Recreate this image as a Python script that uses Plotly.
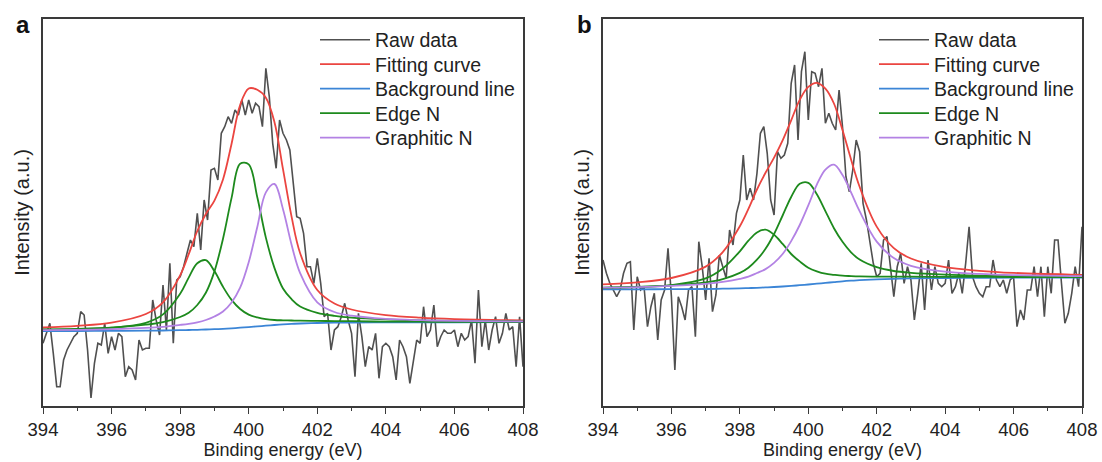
import plotly.graph_objects as go

# ---------------- data ----------------
X_RAW = [round(394 + 0.1 * i, 1) for i in range(141)]

RAW_A = [62.7, 72.7, 82.7, 52.7, 19.3, 19.3, 46, 56, 62.7, 69.3,
         72.7, 94.3, 91, 56, 8, 42.7, 62.7, 61, 82.7, 52.7,
         69.3, 56, 72.7, 69.3, 29.3, 39.3, 36, 26, 66, 56,
         57.7, 57.7, 106, 86, 71, 121, 76, 142.7, 62.7, 126,
         129.3, 139.3, 152.7, 166, 159.3, 192.7, 156, 206, 186, 236,
         237.7, 226, 272.7, 279.3, 289.3, 282.7, 296, 291, 306, 291,
         306, 292.7, 302.7, 299.3, 279.3, 337.7, 309.3, 262.7, 237.7, 286,
         272.7, 266, 256, 219.3, 189.3, 187.7, 172.7, 139.3, 139.3, 122.7,
         147.7, 122.7, 89.3, 92.7, 56, 76, 79.3, 89.3, 102.7, 86,
         72.7, 29.3, 92.7, 69.3, 39.3, 59.3, 56, 72.7, 27.7, 59.3,
         62.7, 59.3, 49.3, 26, 66, 59.3, 49.3, 22.7, 46, 66,
         62.7, 99.3, 69.3, 76, 101, 59.3, 69.3, 76, 72.7, 72.7,
         76, 59.3, 72.7, 66, 69.3, 86, 42.7, 116, 59.3, 86,
         56, 76, 89.3, 62.7, 72.7, 92.7, 76, 79.3, 39.3, 89.3,
         39.3]

RAW_B = [146, 132.7, 122.7, 116, 109.3, 116, 132.7, 142.7, 144.3, 76,
         129.3, 116, 119.3, 79.3, 99.3, 112.7, 66, 106, 116, 157.7,
         109.3, 36, 109.3, 99.3, 86, 116, 119.3, 69.3, 164.3, 139.3,
         106, 147.7, 94.3, 111, 151, 139.3, 127.7, 176, 161, 192.7,
         206, 251, 206, 217.7, 206, 232.7, 272.7, 279.3, 252.7, 206,
         191, 254.3, 247.7, 251, 262.7, 322.7, 341, 266, 334.3, 354.3,
         286, 334.3, 332.7, 319.3, 337.7, 282.7, 292.7, 282.7, 276, 316,
         279.3, 229.3, 214.3, 236, 266, 254.3, 202.7, 186, 166, 142.7,
         129.3, 132.7, 166, 169.3, 139.3, 109.3, 139.3, 152.7, 122.7, 139.3,
         126, 86, 112.7, 142.7, 96, 146, 116, 139.3, 122.7, 119.3,
         122.7, 146, 112.7, 119.3, 132.7, 112.7, 142.7, 179.3, 129.3, 119.3,
         112.7, 109.3, 119.3, 119.3, 146, 126, 119.3, 126, 112.7, 126,
         129.3, 79.3, 96, 86, 116, 116, 139.3, 109.3, 139.3, 89.3,
         139.3, 112.7, 166, 166, 122.7, 82.7, 92.7, 112.7, 139.3, 119.3,
         179.3]

X_FIT = [394, 395, 396, 397, 397.5, 398, 398.25, 398.5, 398.75, 399, 399.25,
         399.5, 399.75, 400, 400.25, 400.5, 400.75, 401, 401.25, 401.5, 402,
         402.5, 403, 404, 405, 406, 408]

FIT_A = [78.5, 80.2, 83.4, 92.0, 103.7, 130.7, 151.8, 175.0, 192.0, 205.4, 226.6,
         262.3, 301.0, 317.5, 316.2, 308.3, 284.1, 236.8, 189.4, 152.8, 116.0,
         102.5, 96.5, 90.9, 88.3, 86.9, 85.7]
BG_A = [75.0, 75.0, 75.1, 75.3, 75.5, 75.8, 76.0, 76.2, 76.5, 76.8, 77.2,
        77.7, 78.3, 78.9, 79.6, 80.3, 81.0, 81.6, 82.1, 82.5, 83.0,
        83.3, 83.5, 83.6, 83.7, 83.7, 83.8]
EDGE1_A = [76.1, 76.8, 78.3, 83.2, 91.6, 112.2, 128.4, 142.7, 145.8, 134.9, 119.2,
           106.1, 97.0, 91.4, 88.6, 86.9, 86.0, 85.7, 85.5, 85.4, 85.1,
           84.9, 84.8, 84.4, 84.3, 84.2, 84.1]
EDGE2_A = [76.5, 77.2, 78.4, 81.3, 83.9, 89.0, 93.2, 101.0, 113.2, 134.6, 167.3,
           208.1, 242.3, 241.6, 208.8, 168.4, 138.1, 117.5, 106.8, 99.5, 93.2,
           90.2, 88.4, 86.6, 85.6, 85.0, 84.7]
GRAPH_A = [75.9, 76.2, 76.9, 78.1, 79.2, 81.1, 82.2, 83.7, 86.0, 89.5, 94.5,
           103.5, 118.3, 143.7, 179.0, 213.6, 222.0, 196.8, 161.3, 132.9, 103.7,
           94.0, 90.3, 87.1, 85.8, 85.1, 84.6]

FIT_B = [121.6, 123.6, 128.0, 139.4, 153.9, 179.8, 197.1, 216.5, 233.2, 248.3, 265.6,
         285.7, 306.2, 319.1, 323.2, 317.4, 302.5, 276.0, 246.6, 219.2, 179.4,
         157.9, 147.5, 138.8, 135.2, 133.1, 131.1]
BG_B = [116.7, 116.7, 116.8, 117.0, 117.3, 117.6, 117.9, 118.2, 118.6, 119.0, 119.5,
        120.1, 120.8, 121.5, 122.3, 123.1, 123.9, 124.7, 125.3, 125.8, 126.6,
        127.2, 127.6, 128.0, 128.2, 128.3, 128.4]
EDGE1_B = [118.2, 119.0, 120.9, 127.6, 137.5, 154.7, 165.3, 173.6, 176.3, 171.2, 162.1,
           152.0, 144.6, 138.3, 134.7, 132.3, 131.2, 130.3, 129.9, 129.6, 129.4,
           129.4, 129.3, 129.1, 129.1, 128.9, 128.8]
EDGE2_B = [118.4, 119.1, 120.6, 123.6, 126.9, 133.1, 138.3, 146.3, 157.2, 172.0, 190.5,
           209.0, 222.2, 223.2, 211.7, 194.9, 177.8, 164.2, 153.7, 146.4, 138.8,
           135.0, 133.2, 131.4, 130.4, 129.9, 129.3]
GRAPH_B = [118.4, 118.9, 120.1, 122.2, 124.1, 127.2, 129.3, 133.0, 136.9, 143.1, 152.0,
           164.9, 181.0, 200.6, 221.4, 236.4, 241.3, 230.9, 213.6, 194.8, 164.4,
           147.9, 140.2, 134.3, 132.1, 130.9, 129.8]

NAMES = ["Raw data", "Fitting curve", "Background line", "Edge N", "Graphitic N"]
X_TICKS = [394, 396, 398, 400, 402, 404, 406, 408]

# ---------------- style ----------------
C_RAW = "#505050"
C_FIT = "#eb4540"
C_BG = "#3b85d6"
C_EDGE = "#1d8a1d"
C_GRAPH = "#b382e4"
FONT = "Arial, Liberation Sans, sans-serif"
AXC = "#3a3a3a"
W, H = 1102, 462
LEG_Y = [40, 64.5, 89, 113.5, 138]   # legend row centres (px from top)

fig = go.Figure()
layout_legends = {}


def legend_name(i):
    return "legend" if i == 1 else "legend%d" % i


def add_panel(xa, ya, first_leg, leg_x, raw, fit, bg, e1, e2, gr):
    series = [
        (X_RAW, raw, C_RAW, 1.6, "linear", 0, True),
        (X_FIT, fit, C_FIT, 1.8, "spline", 1, True),
        (X_FIT, bg, C_BG, 1.8, "spline", 2, True),
        (X_FIT, e1, C_EDGE, 1.8, "spline", 3, True),
        (X_FIT, e2, C_EDGE, 1.8, "spline", 3, False),
        (X_FIT, gr, C_GRAPH, 1.8, "spline", 4, True),
    ]
    for xs, ys, col, lw, shape, k, show in series:
        lg = legend_name(first_leg + k)
        fig.add_trace(go.Scatter(x=xs, y=ys, mode="lines", name=NAMES[k],
                                 line=dict(color=col, width=lw, shape=shape),
                                 xaxis=xa, yaxis=ya, legend=lg, showlegend=show))
    for k in range(5):
        layout_legends[legend_name(first_leg + k)] = dict(
            x=leg_x / W, xanchor="left", y=1 - LEG_Y[k] / H, yanchor="middle",
            font=dict(family=FONT, size=19.5, color="#222"),
            bgcolor="rgba(0,0,0,0)", borderwidth=0, itemwidth=50)


add_panel("x", "y", 1, 315, RAW_A, FIT_A, BG_A, EDGE1_A, EDGE2_A, GRAPH_A)
add_panel("x2", "y2", 6, 874, RAW_B, FIT_B, BG_B, EDGE1_B, EDGE2_B, GRAPH_B)

ydom = [(H - 406) / H, (H - 19) / H]


def xaxis_cfg(dom, anchor):
    return dict(domain=dom, anchor=anchor, range=[394, 408], tickvals=X_TICKS,
                showline=True, mirror=True, linecolor=AXC, linewidth=1.5,
                ticks="outside", ticklen=6, tickwidth=1.3, tickcolor=AXC,
                minor=dict(ticks="outside", ticklen=3, dtick=1, tick0=394,
                           tickcolor=AXC, tickwidth=1.2),
                showgrid=False, zeroline=False, automargin=False,
                ticklabelstandoff=0,
                tickfont=dict(family=FONT, size=18.5, color="#222"),
                title=dict(text="Binding energy (eV)", standoff=0,
                           font=dict(family=FONT, size=18, color="#222")))


def yaxis_cfg(anchor):
    return dict(domain=ydom, anchor=anchor, range=[0, 387],
                showline=True, mirror=True, linecolor=AXC, linewidth=1.5,
                ticks="", showticklabels=False, showgrid=False, zeroline=False,
                automargin=False,
                title=dict(text="Intensity (a.u.)", standoff=6,
                           font=dict(family=FONT, size=20, color="#222")))


fig.update_layout(
    width=W, height=H,
    margin=dict(l=0, r=0, t=0, b=0),
    paper_bgcolor="white", plot_bgcolor="white",
    xaxis=xaxis_cfg([43 / W, 523 / W], "y"),
    yaxis=yaxis_cfg("x"),
    xaxis2=xaxis_cfg([603 / W, 1082 / W], "y2"),
    yaxis2=yaxis_cfg("x2"),
    annotations=[
        dict(text="<b>a</b>", x=23 / W, y=1 - 24 / H, xref="paper", yref="paper",
             xanchor="center", yanchor="middle", showarrow=False,
             font=dict(family=FONT, size=24, color="#111")),
        dict(text="<b>b</b>", x=584 / W, y=1 - 24 / H, xref="paper", yref="paper",
             xanchor="center", yanchor="middle", showarrow=False,
             font=dict(family=FONT, size=24, color="#111")),
    ],
    **layout_legends,
)

fig.write_html("out.html")
